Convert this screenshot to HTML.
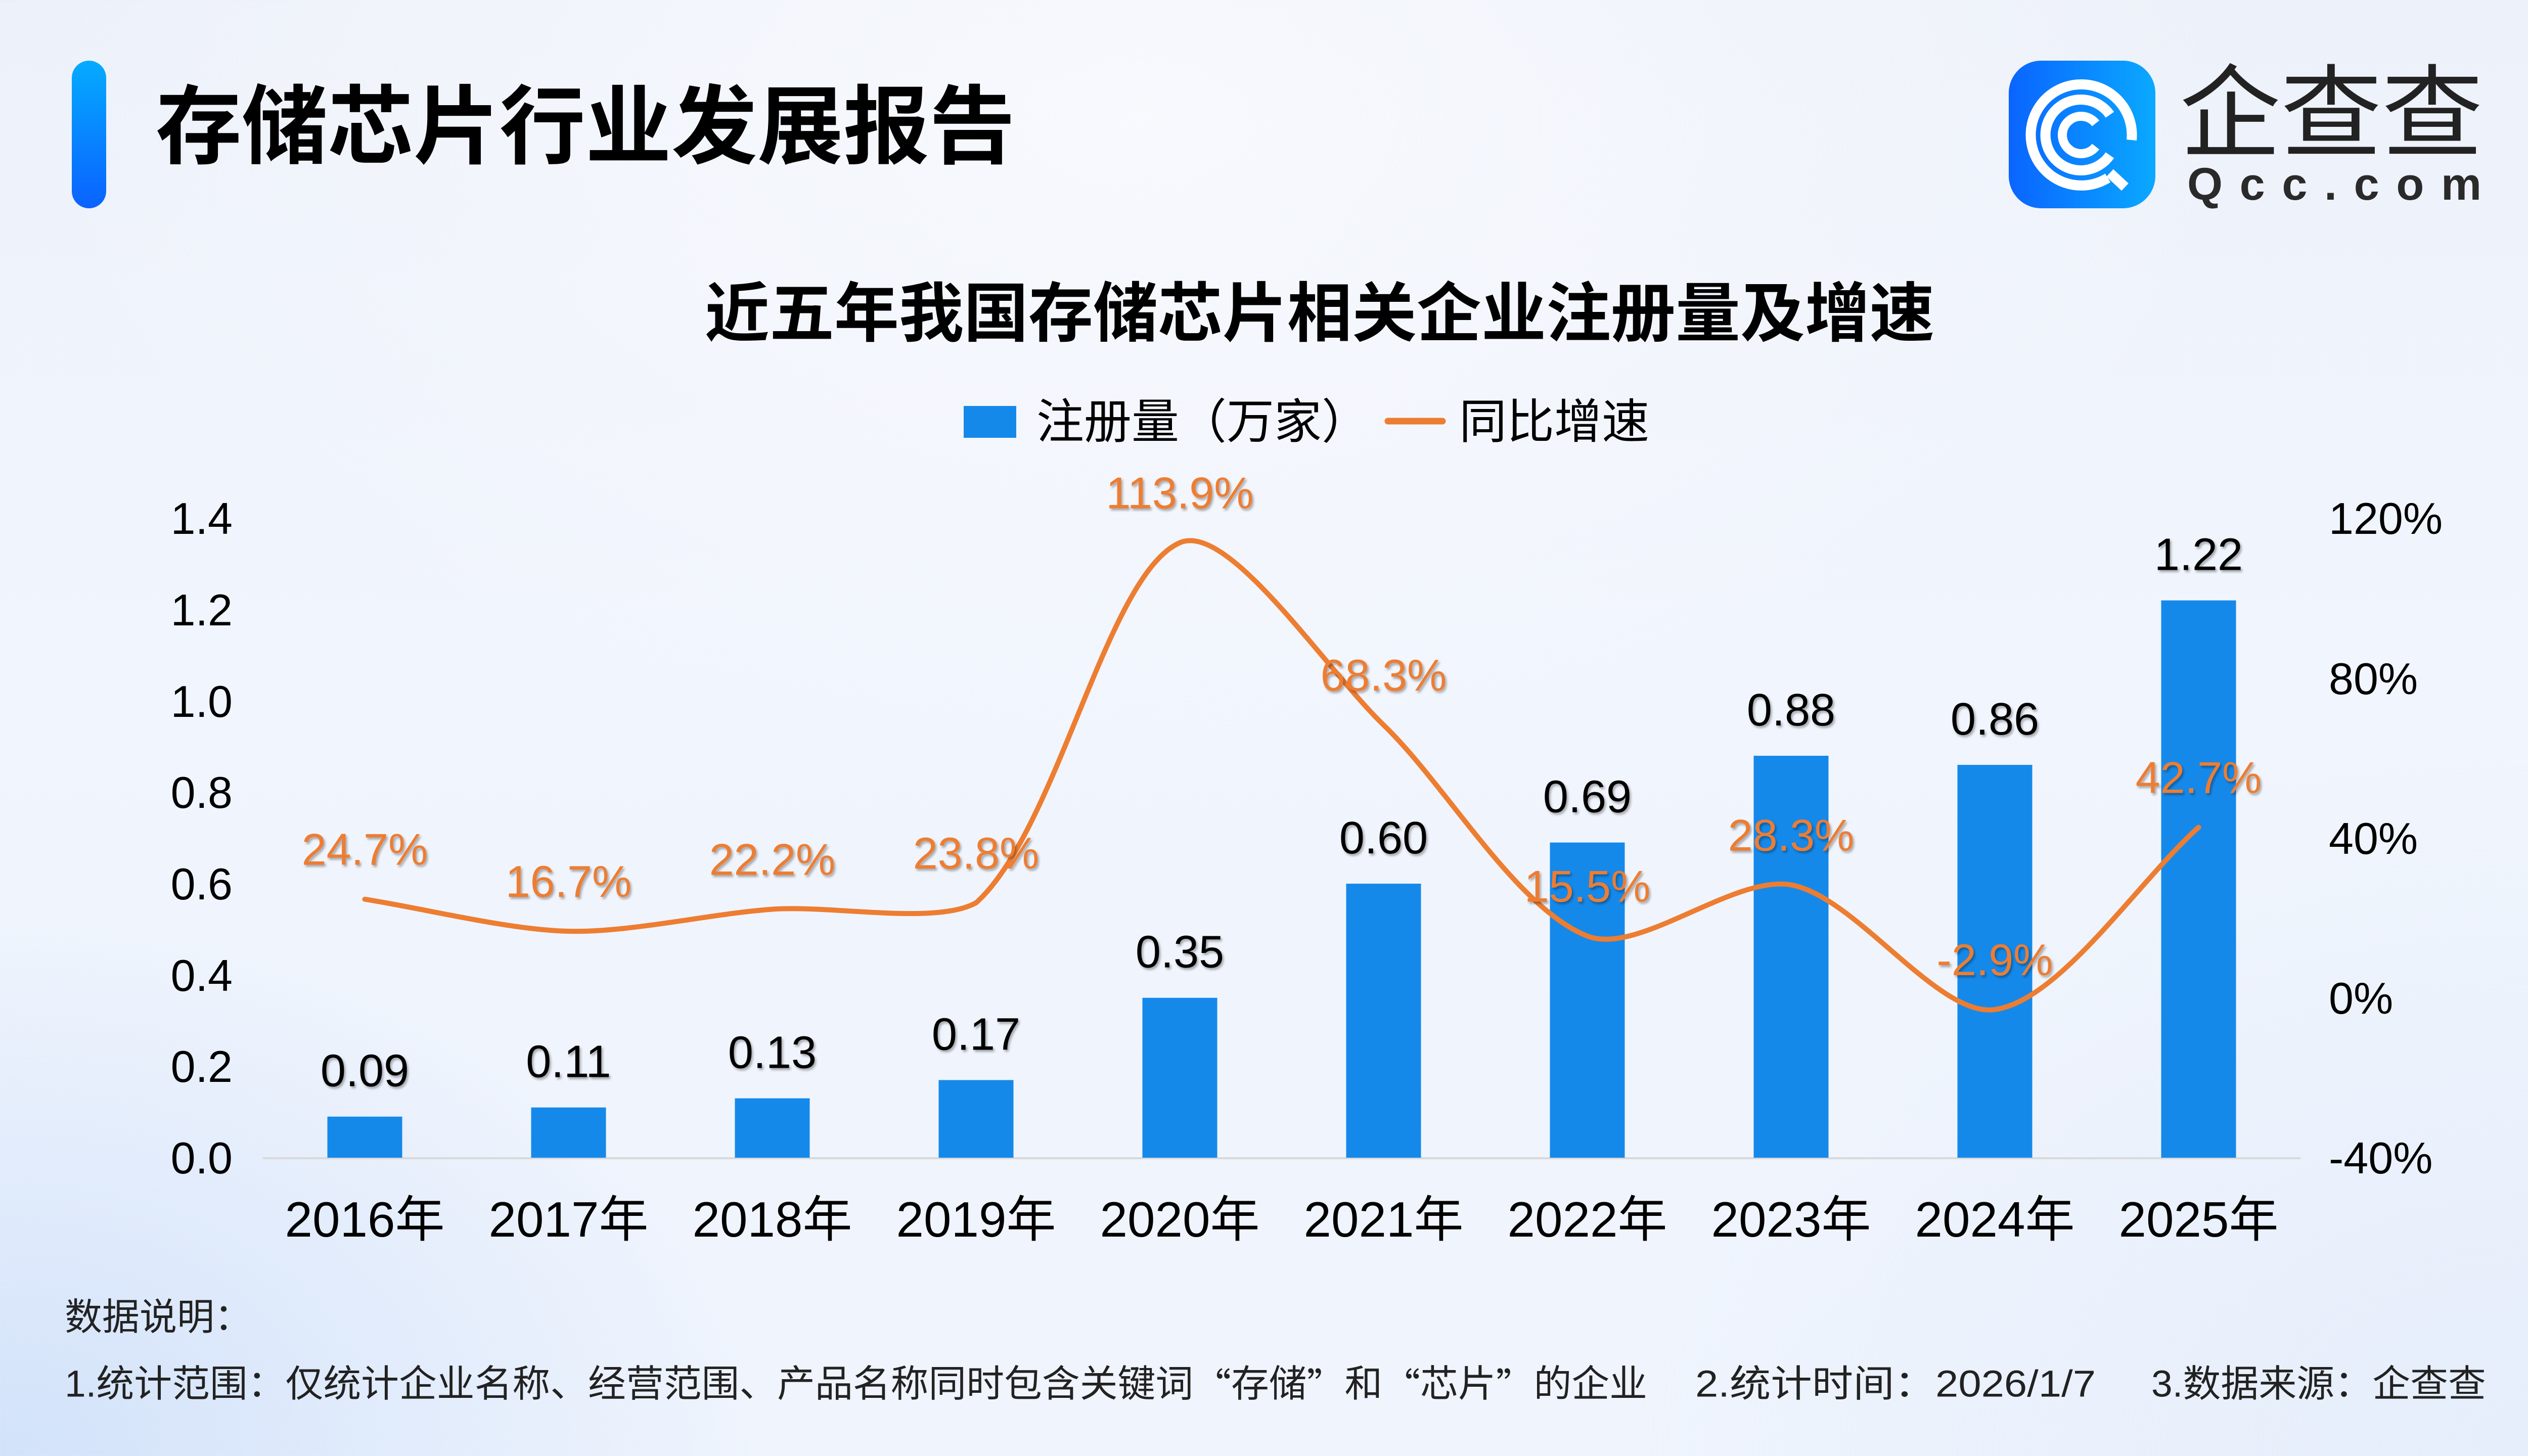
<!DOCTYPE html>
<html>
<head>
<meta charset="utf-8">
<style>
html,body{margin:0;padding:0;}
body{
  width:5120px;height:2880px;overflow:hidden;
  background:
    radial-gradient(ellipse 1500px 1100px at 0% 100%, rgba(205,223,249,0.85), rgba(205,223,249,0) 100%),
    radial-gradient(ellipse 2200px 1300px at 45% 8%, rgba(248,250,254,0.9), rgba(248,250,254,0) 100%),
    radial-gradient(ellipse 1800px 1400px at 100% 100%, rgba(225,235,250,0.7), rgba(225,235,250,0) 100%),
    linear-gradient(180deg,#EDF1F9 0%,#F1F5FD 45%,#EFF4FD 100%);
  font-family:"Liberation Sans","Noto Sans CJK SC",sans-serif;
}
svg{position:absolute;left:0;top:0;}
.cjk{font-family:"Liberation Sans","Noto Sans CJK SC",sans-serif;}
.num{font-family:"Liberation Sans","Noto Sans CJK SC",sans-serif;}
</style>
</head>
<body>
<svg width="5120" height="2880" viewBox="0 0 5120 2880" xmlns="http://www.w3.org/2000/svg">
  <defs>
    <linearGradient id="barGrad" x1="0" y1="0" x2="0" y2="1">
      <stop offset="0" stop-color="#05ABFF"/>
      <stop offset="1" stop-color="#0A62FF"/>
    </linearGradient>
    <linearGradient id="logoGrad" x1="0" y1="0" x2="1" y2="0">
      <stop offset="0" stop-color="#0A64FF"/>
      <stop offset="1" stop-color="#0AA9FF"/>
    </linearGradient>
    <filter id="sh" x="-20%" y="-30%" width="140%" height="160%">
      <feDropShadow dx="3" dy="4" stdDeviation="2.5" flood-color="#000" flood-opacity="0.32"/>
    </filter>
  </defs>

  <!-- Header -->
  <rect x="142" y="120" width="68" height="292" rx="34" ry="34" fill="url(#barGrad)"/>
  <text x="308" y="252" dominant-baseline="central" font-size="170" font-weight="700" fill="#000" textLength="1700" lengthAdjust="spacingAndGlyphs" class="cjk">存储芯片行业发展报告</text>

  <!-- Logo -->
  <rect x="3973" y="120" width="290" height="292" rx="64" ry="64" fill="url(#logoGrad)"/>
  <g transform="translate(3973,120)" fill="none" stroke="#fff" stroke-linecap="butt">
    <path d="M 243 157 A 100 100 0 1 0 196 232" stroke-width="20"/>
    <path d="M 200 222 L 230 250" stroke-width="20"/>
    <path d="M 200 107 A 70 70 0 1 0 200 187" stroke-width="20"/>
    <path d="M 172 124 A 37 37 0 1 0 172 170" stroke-width="18"/>
  </g>
  <text x="4311" y="226" dominant-baseline="central" font-size="200" fill="#222" textLength="600" lengthAdjust="spacingAndGlyphs" class="cjk">企查查</text>
  <text x="4326" y="395" font-size="90" font-weight="700" fill="#2a2a2a" textLength="582" lengthAdjust="spacing" class="num">Qcc.com</text>

  <!-- Chart title -->
  <text x="2610" y="621" text-anchor="middle" dominant-baseline="central" font-size="128" font-weight="700" fill="#000" textLength="2432" lengthAdjust="spacingAndGlyphs" class="cjk">近五年我国存储芯片相关企业注册量及增速</text>

  <!-- Legend -->
  <rect x="1906" y="803" width="104" height="63" fill="#1589EA"/>
  <text x="2050" y="834" dominant-baseline="central" font-size="94" fill="#000" class="cjk">注册量（万家）</text>
  <line x1="2745" y1="833" x2="2853" y2="833" stroke="#ED7D31" stroke-width="13" stroke-linecap="round"/>
  <text x="2886" y="834" dominant-baseline="central" font-size="94" fill="#000" class="cjk">同比增速</text>

  <!-- Left axis labels -->
  <g font-size="88" fill="#000" text-anchor="end" class="num">
    <text x="460" y="2321">0.0</text>
    <text x="460" y="2140">0.2</text>
    <text x="460" y="1960">0.4</text>
    <text x="460" y="1779">0.6</text>
    <text x="460" y="1598">0.8</text>
    <text x="460" y="1418">1.0</text>
    <text x="460" y="1237">1.2</text>
    <text x="460" y="1056">1.4</text>
  </g>
  <!-- Right axis labels -->
  <g font-size="88" fill="#000" text-anchor="start" class="num">
    <text x="4606" y="2321">-40%</text>
    <text x="4606" y="2005">0%</text>
    <text x="4606" y="1689">40%</text>
    <text x="4606" y="1373">80%</text>
    <text x="4606" y="1056">120%</text>
  </g>

  <!-- Axis line -->
  <line x1="520" y1="2291" x2="4550" y2="2291" stroke="#D9D9D9" stroke-width="4"/>

  <!-- Bars -->
  <g fill="#1589EA">
    <rect x="647.5" y="2208.7" width="148" height="81.3"/>
    <rect x="1050.5" y="2190.6" width="148" height="99.4"/>
    <rect x="1453.5" y="2172.5" width="148" height="117.5"/>
    <rect x="1856.5" y="2136.4" width="148" height="153.6"/>
    <rect x="2259.5" y="1973.7" width="148" height="316.3"/>
    <rect x="2662.5" y="1747.9" width="148" height="542.1"/>
    <rect x="3065.5" y="1666.5" width="148" height="623.5"/>
    <rect x="3468.5" y="1494.9" width="148" height="795.1"/>
    <rect x="3871.5" y="1512.9" width="148" height="777.1"/>
    <rect x="4274.5" y="1187.6" width="148" height="1102.4"/>
  </g>

  <!-- Bar value labels -->
  <g font-size="90" fill="#000" text-anchor="middle" filter="url(#sh)" class="num">
    <text x="721.5" y="2148.7">0.09</text>
    <text x="1124.5" y="2130.6">0.11</text>
    <text x="1527.5" y="2112.5">0.13</text>
    <text x="1930.5" y="2076.4">0.17</text>
    <text x="2333.5" y="1913.7">0.35</text>
    <text x="2736.5" y="1687.9">0.60</text>
    <text x="3139.5" y="1606.5">0.69</text>
    <text x="3542.5" y="1434.9">0.88</text>
    <text x="3945.5" y="1452.9">0.86</text>
    <text x="4348.5" y="1127.6">1.22</text>
  </g>

  <!-- Growth line -->
  <path d="M721.5,1778.7 C842.4,1797.7 1003.2,1839.0 1124.5,1842.0
           C1245.0,1845.0 1406.3,1807.0 1527.5,1798.5
           C1648.1,1790.1 1850.7,1830.0 1930.5,1785.8
           C2092.5,1640.1 2187.9,1137.1 2333.5,1073.5
           C2429.7,1031.5 2619.9,1321.4 2736.5,1434.0
           C2861.7,1554.8 2998.6,1796.2 3139.5,1851.5
           C3240.4,1891.1 3429.3,1729.9 3542.5,1750.3
           C3671.1,1773.5 3832.7,2012.8 3945.5,1996.9
           C4074.5,1978.7 4227.6,1744.6 4348.5,1636.4"
        fill="none" stroke="#ED7D31" stroke-width="10" stroke-linecap="round" stroke-linejoin="round"/>

  <!-- Growth labels -->
  <g font-size="88" fill="#ED7D31" text-anchor="middle" filter="url(#sh)" class="num">
    <text x="721.5" y="1710.7">24.7%</text>
    <text x="1124.5" y="1774">16.7%</text>
    <text x="1527.5" y="1730.5">22.2%</text>
    <text x="1930.5" y="1717.8">23.8%</text>
    <text x="2333.5" y="1005.5">113.9%</text>
    <text x="2736.5" y="1366">68.3%</text>
    <text x="3139.5" y="1783.5">15.5%</text>
    <text x="3542.5" y="1682.3">28.3%</text>
    <text x="3945.5" y="1928.9">-2.9%</text>
    <text x="4348.5" y="1568.4">42.7%</text>
  </g>

  <!-- X axis labels -->
  <g font-size="98" fill="#000" text-anchor="middle" class="cjk">
    <text x="721.5" y="2446">2016年</text>
    <text x="1124.5" y="2446">2017年</text>
    <text x="1527.5" y="2446">2018年</text>
    <text x="1930.5" y="2446">2019年</text>
    <text x="2333.5" y="2446">2020年</text>
    <text x="2736.5" y="2446">2021年</text>
    <text x="3139.5" y="2446">2022年</text>
    <text x="3542.5" y="2446">2023年</text>
    <text x="3945.5" y="2446">2024年</text>
    <text x="4348.5" y="2446">2025年</text>
  </g>

  <!-- Footer -->
  <g font-size="74" fill="#222" class="cjk">
    <text x="128" y="2605" dominant-baseline="central">数据说明：</text>
    <text x="128" y="2737" dominant-baseline="central" textLength="3130" lengthAdjust="spacingAndGlyphs">1.统计范围：仅统计企业名称、经营范围、产品名称同时包含关键词<tspan font-family="Noto Sans CJK SC, sans-serif">“</tspan>存储<tspan font-family="Noto Sans CJK SC, sans-serif">”</tspan>和<tspan font-family="Noto Sans CJK SC, sans-serif">“</tspan>芯片<tspan font-family="Noto Sans CJK SC, sans-serif">”</tspan>的企业</text>
    <text x="3353" y="2737" dominant-baseline="central" textLength="792" lengthAdjust="spacingAndGlyphs">2.统计时间：2026/1/7</text>
    <text x="4255" y="2737" dominant-baseline="central" textLength="662" lengthAdjust="spacingAndGlyphs">3.数据来源：企查查</text>
  </g>
</svg>
</body>
</html>
